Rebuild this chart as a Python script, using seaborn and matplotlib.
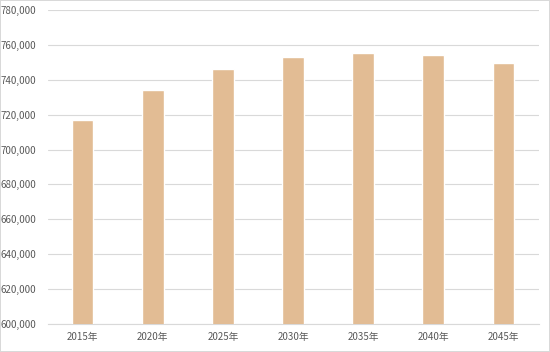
import matplotlib
matplotlib.use("Agg")
import matplotlib.pyplot as plt
import matplotlib.ticker as mticker
import seaborn as sns
import pandas as pd

years = ["2015年", "2020年", "2025年", "2030年", "2035年", "2040年", "2045年"]
population = [716900, 734300, 746100, 752900, 755600, 754300, 749700]
y_ticks = [600000, 620000, 640000, 660000, 680000, 700000, 720000, 740000, 760000, 780000]

sns.set_theme(style="white")
plt.rcParams['font.family'] = ['Noto Sans CJK JP', 'DejaVu Sans']

df = pd.DataFrame({"year": years, "population": population})

fig = plt.figure(figsize=(5.5, 3.52), dpi=100)
fig.patch.set_facecolor("white")
fig.patch.set_edgecolor("#D9D9D9")
fig.patch.set_linewidth(1.2)
ax = fig.add_axes([0.0864, 0.0804, 0.8927, 0.8903])

sns.barplot(data=df, x="year", y="population", color="#E2BC94",
            saturation=1, width=0.31, ax=ax, zorder=3)

ax.set_ylim(600000, 780000)
ax.set_yticks(y_ticks)
ax.yaxis.set_major_formatter(mticker.FuncFormatter(lambda v, p: f"{int(v):,}"))
ax.grid(axis="y", color="#D9D9D9", linewidth=0.8, zorder=0)
ax.set_axisbelow(True)
for s in ["top", "right", "left"]:
    ax.spines[s].set_visible(False)
ax.spines["bottom"].set_color("#D9D9D9")
ax.spines["bottom"].set_linewidth(0.8)
ax.set_xlabel("")
ax.set_ylabel("")
ax.tick_params(axis="y", length=0, pad=8, labelsize=7, labelcolor="#595959")
ax.tick_params(axis="x", length=0, pad=6, labelsize=7, labelcolor="#595959")

fig.savefig("out.png", dpi=100, facecolor=fig.get_facecolor(), edgecolor=fig.get_edgecolor())
